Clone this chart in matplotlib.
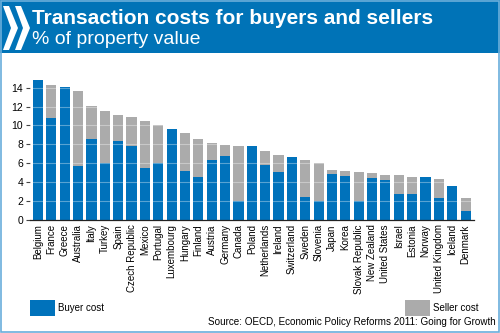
import matplotlib
matplotlib.use("Agg")
import matplotlib.pyplot as plt
from matplotlib.patches import Polygon, Rectangle

countries = ["Belgium", "France", "Greece", "Australia", "Italy", "Turkey", "Spain",
             "Czech Republic", "Mexico", "Portugal", "Luxembourg", "Hungary", "Finland",
             "Austria", "Germany", "Canada", "Poland", "Netherlands", "Ireland",
             "Switzerland", "Sweden", "Slovenia", "Japan", "Korea", "Slovak Republic",
             "New Zealand", "United States", "Israel", "Estonia", "Norway",
             "United Kingdom", "Iceland", "Denmark"]
buyer = [14.85, 10.75, 14.05, 5.75, 8.6, 6.05, 8.35, 7.8, 5.45, 6.0, 9.6, 5.15, 4.55,
         6.35, 6.75, 2.0, 7.85, 5.8, 5.1, 6.65, 2.4, 2.0, 4.9, 4.65, 2.0, 4.4, 4.25,
         2.8, 2.8, 4.5, 2.3, 3.55, 1.0]
total = [14.85, 14.25, 14.05, 13.7, 12.1, 11.5, 11.1, 10.85, 10.5, 10.05, 9.6, 9.2, 8.55,
         8.15, 7.9, 7.8, 7.85, 7.35, 6.9, 6.65, 6.35, 6.05, 5.3, 5.15, 5.05, 5.0, 4.75,
         4.75, 4.55, 4.5, 4.35, 3.55, 2.3]
seller = [t - b for t, b in zip(total, buyer)]
yticks = [0, 2, 4, 6, 8, 10, 12, 14]

BLUE = "#0072BB"
GREY = "#ABABAB"
HEAD = "#0073B7"
BORDER = "#6AAEDB"
FONT = "Liberation Sans"

W, H = 500, 333
fig = plt.figure(figsize=(5, 3.33), dpi=100)
fig.patch.set_facecolor("white")

def fx(px):
    return px / W

def fy(py):
    return 1 - py / H

# header band
fig.patches.append(Rectangle((0, fy(53)), 1, 53 / H, transform=fig.transFigure,
                             facecolor=HEAD, edgecolor="none", zorder=0))
# border
fig.patches.append(Rectangle((fx(0.5), fy(331.5)), fx(498), 331 / H, transform=fig.transFigure,
                             facecolor="none", edgecolor=BORDER, linewidth=1.2, zorder=5))
# logo chevrons
for dx in (0, 12):
    pts = [(3 + dx, 6), (9 + dx, 6), (18 + dx, 28), (9 + dx, 50), (3 + dx, 50), (11 + dx, 28)]
    fig.patches.append(Polygon([(fx(x), fy(y)) for x, y in pts], closed=True,
                               transform=fig.transFigure, facecolor="white",
                               edgecolor="none", zorder=2))

fig.text(fx(32), fy(18), "Transaction costs for buyers and sellers", color="white",
         fontsize=15, fontweight="bold", family=FONT, va="center", ha="left")
fig.text(fx(32), fy(39), "% of property value", color="white",
         fontsize=14, family=FONT, va="center", ha="left")

ax = fig.add_axes([fx(30), fy(220), 444 / W, 160 / H])
x = list(range(len(countries)))
ax.bar(x, buyer, width=0.76, color=BLUE, edgecolor="none", zorder=2, label="Buyer cost")
ax.bar(x, seller, bottom=buyer, width=0.76, color=GREY, edgecolor="none", zorder=2,
       label="Seller cost")
for t in yticks[1:]:
    ax.axhline(t, color="white", alpha=0.35, linewidth=0.8, zorder=3)
ax.set_xlim(-0.6, 32.63)
ax.set_ylim(0, 16.93)
for s in ["top", "right", "left"]:
    ax.spines[s].set_visible(False)
ax.spines["bottom"].set_color("#222222")
ax.spines["bottom"].set_linewidth(0.9)
ax.set_yticks(yticks)
ax.set_yticklabels([str(t) for t in yticks], family=FONT, fontsize=7.5)
ax.tick_params(axis="y", length=3, width=0.8, color="#444444", pad=2)
ax.set_xticks(x)
ax.set_xticklabels(countries, rotation=90, family=FONT, fontsize=7)
ax.tick_params(axis="x", length=0, pad=3)

# legend
fig.patches.append(Rectangle((fx(30), fy(316)), 25 / W, 16 / H, transform=fig.transFigure,
                             facecolor=BLUE, edgecolor="none"))
fig.text(fx(58), fy(308), "Buyer cost", family=FONT, fontsize=7, va="center", ha="left")
fig.patches.append(Rectangle((fx(405), fy(316)), 25 / W, 16 / H, transform=fig.transFigure,
                             facecolor=GREY, edgecolor="none"))
fig.text(fx(433), fy(308), "Seller cost", family=FONT, fontsize=7, va="center", ha="left")
fig.text(fx(496), fy(322), "Source: OECD, Economic Policy Reforms 2011: Going for Growth",
         family=FONT, fontsize=7.1, va="center", ha="right")

fig.savefig("out.png", dpi=100)
